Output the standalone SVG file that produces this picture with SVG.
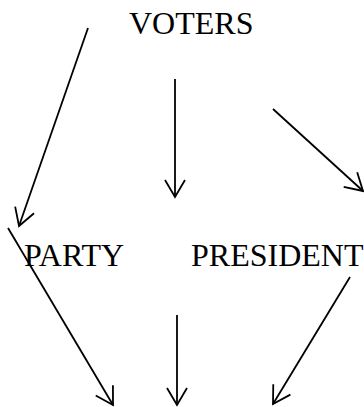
<svg xmlns="http://www.w3.org/2000/svg" width="364" height="407" viewBox="0 0 364 407">
<style>
text{font-family:"Liberation Serif","Times New Roman",serif;font-size:32px;fill:#000}
.c path{stroke:#000;stroke-width:1.8;fill:none;marker-end:url(#ah)}
.c line{stroke:#000;stroke-width:1.8}
</style>
<defs>
<marker id="ah" markerWidth="24" markerHeight="24" refX="20" refY="12" orient="auto" markerUnits="userSpaceOnUse">
<path d="M3,2 L20,12 L3,22" fill="none" stroke="#000" stroke-width="1.8"/>
</marker>
</defs>
<rect width="364" height="407" fill="#fff"/>
<g id="voters"><text x="129" y="34">VOTERS</text></g>
<g id="party"><text x="24" y="266">PARTY</text></g>
<g id="president"><text x="191" y="266">PRESIDENT</text></g>
<g class="c" id="connectors">
<path d="M88,28 L19,226"/>
<path d="M175,79 L175,197"/>
<path d="M273,109 L363,191"/>
<path d="M8,228 L113,405"/>
<path d="M177,315 L177,405"/>
<path d="M350,277 L273,404"/>
</g>
</svg>
